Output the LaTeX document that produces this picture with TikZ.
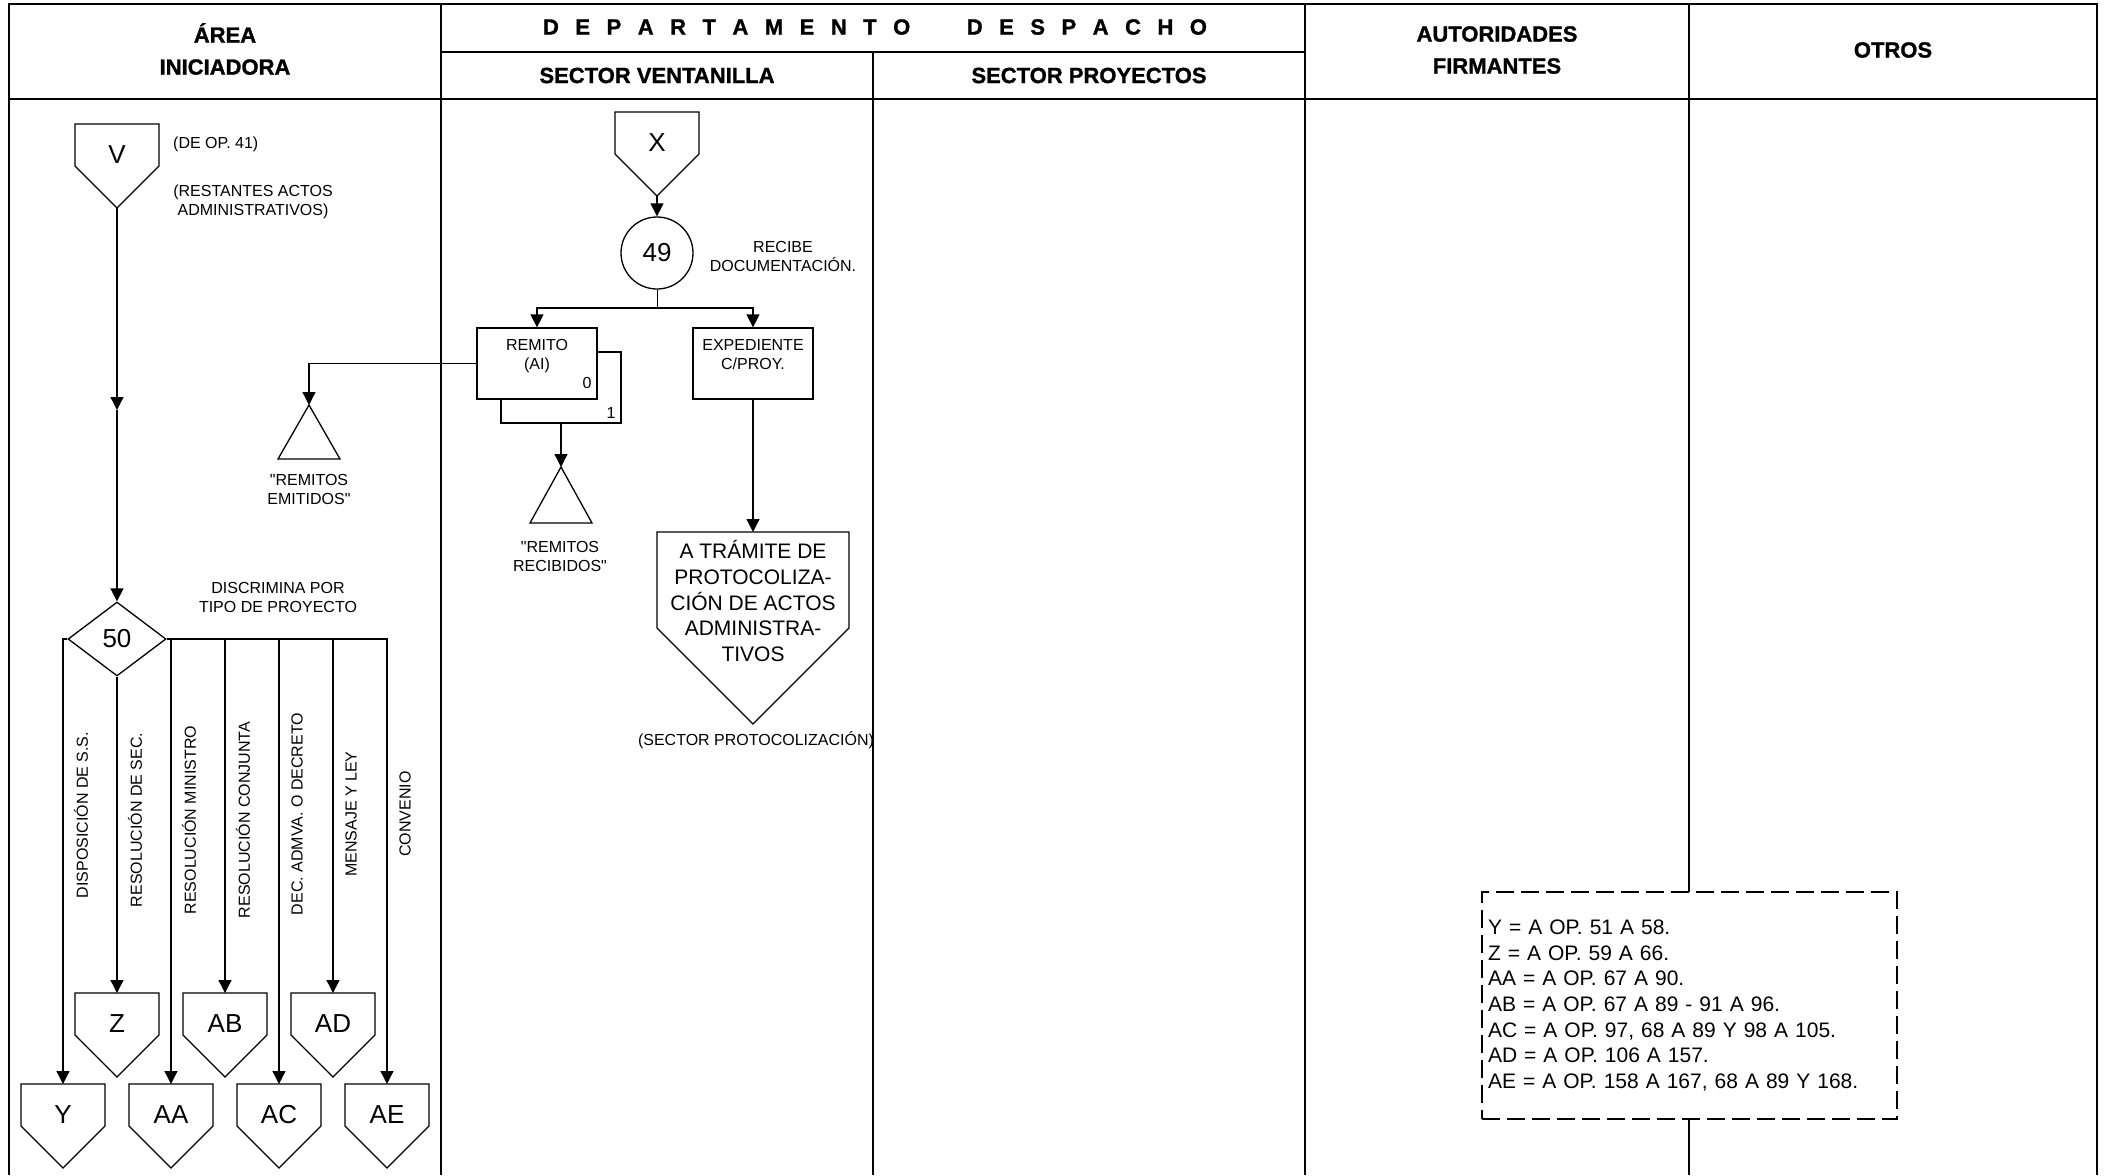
\documentclass[tikz,border=0pt]{standalone}
\usepackage{fontspec}
\setmainfont{Liberation Sans}[Ligatures=TeXOff]
\usetikzlibrary{calc,arrows.meta,shapes.geometric}

\tikzset{
  tabla/.style={line width=1.8pt},
  forma/.style={line width=1.3pt},
  flecha/.style={line width=1.3pt,-{Triangle[length=13pt,width=13pt]}},
  cab/.style={font=\fontsize{22}{32}\selectfont\bfseries\addfontfeature{FakeBold=1.2},align=center,inner sep=0pt},
  txt/.style={font=\fontsize{16}{19}\selectfont,align=center,inner sep=0pt},
  letra/.style={font=\fontsize{26}{30}\selectfont,align=center,inner sep=0pt},
  caja/.style={forma,draw,fill=white,txt,minimum width=120pt,minimum height=71pt},
  vert/.style={txt,rotate=90},
  leyenda/.style={draw,fill=white,line width=1.6pt,dash pattern=on 18pt off 7pt,
    text width=403pt,inner sep=6pt,minimum height=227pt,align=left,
    font=\fontsize{21}{25.7}\selectfont},
}

% conector fuera de pagina: [medio ancho]{nombre}{punto superior}{texto}
\newcommand{\salida}[4][42]{%
  \draw[forma] (#3) ++(-#1,0) -- ++(2*#1,0) -- ++(0,#1) -- ++(-#1,#1) coordinate (#2-s) -- ++(-#1,-#1) -- cycle;
  \coordinate (#2-n) at (#3);
  \node[letra] (#2) at ($(#3)+(0,0.72*#1)$) {#4};
}

\begin{document}
\begin{tikzpicture}[x=1pt,y=-1pt]
  \useasboundingbox (0,0) rectangle (2109,1175);

  % encabezado y carriles
  \draw[tabla] (9,1175) -- (9,4) -- (2097,4) -- (2097,1175);
  \draw[tabla] (441,52) -- (1305,52);
  \draw[tabla] (9,99) -- (2097,99);
  \draw[tabla] (441,4) -- (441,1175);
  \draw[tabla] (873,52) -- (873,1175);
  \draw[tabla] (1305,4) -- (1305,1175);
  \draw[tabla] (1689,4) -- (1689,1175);

  \node[cab] (area) at (225,49) {ÁREA\\INICIADORA};
  \node[cab] (depto) at (875,27) {\spaceskip=16.5pt D E P A R T A M E N T O\hspace{56.5pt}D E S P A C H O};
  \node[cab] (vent) at (657,75.5) {SECTOR VENTANILLA};
  \node[cab] (proy) at (1089,75.5) {SECTOR PROYECTOS};
  \node[cab] (aut) at (1497,50) {AUTORIDADES\\FIRMANTES};
  \node[cab] (otros) at (1893,50) {OTROS};

  % area iniciadora
  \salida{V}{117,124}{V}
  \node[txt,anchor=west] (deop) at (173,144) {(DE OP. 41)};
  \node[txt] (rest) at (253,202) {(RESTANTES ACTOS\\ADMINISTRATIVOS)};
  \coordinate (vmid) at (117,410);
  \node[forma,draw,diamond,minimum width=98pt,minimum height=74pt,letra] (d50) at (117,639) {50};
  \node[txt] (discr) at (278,597) {DISCRIMINA POR\\TIPO DE PROYECTO};

  \salida{Z}{117,993}{Z}
  \salida{AB}{225,993}{AB}
  \salida{AD}{333,993}{AD}
  \salida{Y}{63,1084}{Y}
  \salida{AA}{171,1084}{AA}
  \salida{AC}{279,1084}{AC}
  \salida{AE}{387,1084}{AE}

  \draw[flecha] (V-s) -- (vmid);
  \draw[flecha] (vmid) -- (d50.north);
  \draw[flecha] (d50.west) -| (Y-n);
  \draw[flecha] (d50.south) -- (Z-n);
  \draw[flecha] (d50.east) -| (AA-n);
  \draw[flecha] (d50.east) -| (AB-n);
  \draw[flecha] (d50.east) -| (AC-n);
  \draw[flecha] (d50.east) -| (AD-n);
  \draw[flecha] (d50.east) -| (AE-n);

  % tipos de proyecto
  \node[vert] (tdisp) at (81,815) {DISPOSICIÓN DE S.S.};
  \node[vert] (tsec) at (135,820) {RESOLUCIÓN DE SEC.};
  \node[vert] (tmin) at (189,820) {RESOLUCIÓN MINISTRO};
  \node[vert] (tconj) at (243,820) {RESOLUCIÓN CONJUNTA};
  \node[vert] (tdec) at (297,814) {DEC. ADMVA. O DECRETO};
  \node[vert] (tley) at (351,814) {MENSAJE Y LEY};
  \node[vert] (tconv) at (405,814) {CONVENIO};

  % sector ventanilla
  \salida{X}{657,112}{X}
  \node[forma,draw,circle,minimum size=72pt,letra] (c49) at (657,253) {49};
  \node[txt] (recibe) at (783,256) {RECIBE\\DOCUMENTACIÓN.};
  \coordinate (rama) at (657,308);

  \node[caja] (rem1) at (561,387.5) {};
  \node[caja] (rem) at (537,363.5) {REMITO\\(AI)\\\mbox{}};
  \node[caja] (exp) at (753,363.5) {EXPEDIENTE\\C/PROY.\\\mbox{}};
  \node[txt] (n0) at (587,383) {0};
  \node[txt] (n1) at (611,413) {1};

  \draw[forma] (309,405) coordinate (emit) -- ++(31,54) -- ++(-62,0) -- cycle;
  \node[txt] (emitlbl) at (309,489) {"REMITOS\\EMITIDOS"};
  \draw[forma] (561,467) coordinate (recib) -- ++(31,56) -- ++(-62,0) -- cycle;
  \node[txt] (reciblbl) at (560,556) {"REMITOS\\RECIBIDOS"};

  \begin{scope}[letra/.style={font=\fontsize{21}{25.7}\selectfont,align=center,inner sep=0pt}]
    \salida[96]{tram}{753,532}{A TRÁMITE DE\\PROTOCOLIZA-\\CIÓN DE ACTOS\\ADMINISTRA-\\TIVOS}
  \end{scope}
  \node[txt] (protoc) at (756,740) {(SECTOR PROTOCOLIZACIÓN)};

  \draw[flecha] (X-s) -- (c49.north);
  \draw (c49.south) -- (rama);
  \draw[flecha] (rama) -| (rem.north);
  \draw[flecha] (rama) -| (exp.north);
  \draw[flecha] (rem.west) -| (emit);
  \draw[flecha] (rem1.south) -- (recib);
  \draw[flecha] (exp.south) -- (tram-n);

  % referencias
  \node[leyenda] (ley) at (1689.5,1005.5) {Y = A OP. 51 A 58.\\Z = A OP. 59 A 66.\\AA = A OP. 67 A 90.\\AB = A OP. 67 A 89 - 91 A 96.\\AC = A OP. 97, 68 A 89 Y 98 A 105.\\AD = A OP. 106 A 157.\\AE = A OP. 158 A 167, 68 A 89 Y 168.};
\end{tikzpicture}
\end{document}
